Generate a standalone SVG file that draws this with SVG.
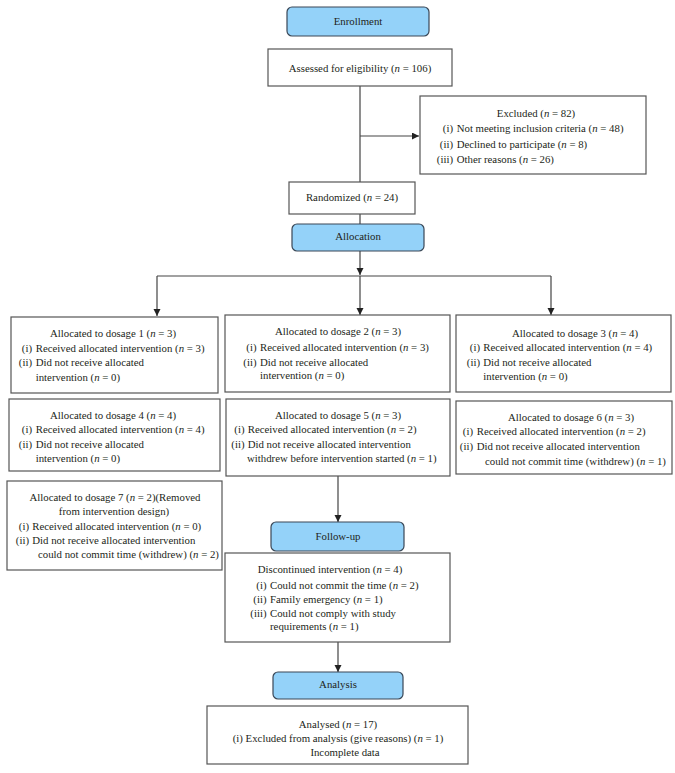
<svg xmlns="http://www.w3.org/2000/svg" width="675" height="773" viewBox="0 0 675 773">
<defs>
<marker id="ah" markerUnits="userSpaceOnUse" markerWidth="7" markerHeight="8" refX="7" refY="3.5" orient="auto">
<path d="M0,0 L7,3.5 L0,7 z" fill="#222"/>
</marker>
</defs>
<style>
.bx{fill:#fff;stroke:#555;stroke-width:1.2}
.bl{fill:#94d2f9;stroke:#3a4756;stroke-width:1.2}
text{font-family:"Liberation Serif","Times New Roman",serif;font-size:10.8px;fill:#231f20}
.c{text-anchor:middle}
.e{text-anchor:end}
.i{font-style:italic}
.ln{fill:none;stroke:#444;stroke-width:1.2}
</style>
<rect width="675" height="773" fill="#fff"/>
<g id="connectors">
<path class="ln" d="M360,86 V182 M360,214 V224"/>
<path class="ln" d="M360,136 H419" marker-end="url(#ah)"/>
<path class="ln" d="M360,251 V275" marker-end="url(#ah)"/>
<path class="ln" d="M157,276 H551"/>
<path class="ln" d="M157,276 V316" marker-end="url(#ah)"/>
<path class="ln" d="M360,276 V315" marker-end="url(#ah)"/>
<path class="ln" d="M551,276 V315" marker-end="url(#ah)"/>
<path class="ln" d="M338,476 V522" marker-end="url(#ah)"/>
<path class="ln" d="M338,642 V672" marker-end="url(#ah)"/>
</g>
<g id="enrollment">
<rect class="bl" x="287" y="7" width="142" height="29" rx="5"/>
<text class="c" x="358" y="25">Enrollment</text>
</g>
<g id="assessed">
<rect class="bx" x="268" y="49" width="184" height="37"/>
<text class="c" x="360" y="72">Assessed for eligibility (<tspan class="i">n</tspan> = 106)</text>
</g>
<g id="excluded">
<rect class="bx" x="420" y="96" width="226" height="78"/>
<text class="c" x="536" y="117">Excluded (<tspan class="i">n</tspan> = 82)</text>
<text class="e" x="453" y="132">(i)</text><text x="456.7" y="132">Not meeting inclusion criteria (<tspan class="i">n</tspan> = 48)</text>
<text class="e" x="453" y="148">(ii)</text><text x="456.7" y="148">Declined to participate (<tspan class="i">n</tspan> = 8)</text>
<text class="e" x="453" y="163">(iii)</text><text x="456.7" y="163">Other reasons (<tspan class="i">n</tspan> = 26)</text>
</g>
<g id="randomized">
<rect class="bx" x="289" y="182" width="126" height="32"/>
<text class="c" x="352" y="201">Randomized (<tspan class="i">n</tspan> = 24)</text>
</g>
<g id="allocation">
<rect class="bl" x="292" y="224" width="132" height="27" rx="5"/>
<text class="c" x="358" y="240">Allocation</text>
</g>
<g id="dosage1">
<rect class="bx" x="11" y="317" width="207" height="76"/>
<text class="c" x="113" y="337">Allocated to dosage 1 (<tspan class="i">n</tspan> = 3)</text>
<text class="e" x="32" y="352">(i)</text><text x="35.7" y="352">Received allocated intervention (<tspan class="i">n</tspan> = 3)</text>
<text class="e" x="32" y="366">(ii)</text><text x="35.7" y="366">Did not receive allocated</text>
<text x="35.7" y="381">intervention (<tspan class="i">n</tspan> = 0)</text>
</g>
<g id="dosage2">
<rect class="bx" x="225" y="315" width="225" height="77"/>
<text class="c" x="338" y="335">Allocated to dosage 2 (<tspan class="i">n</tspan> = 3)</text>
<text class="e" x="256.5" y="351">(i)</text><text x="260" y="351">Received allocated intervention (<tspan class="i">n</tspan> = 3)</text>
<text class="e" x="256.5" y="366">(ii)</text><text x="260" y="366">Did not receive allocated</text>
<text x="260" y="379">intervention (<tspan class="i">n</tspan> = 0)</text>
</g>
<g id="dosage3">
<rect class="bx" x="456" y="315" width="215" height="77"/>
<text class="c" x="575" y="337">Allocated to dosage 3 (<tspan class="i">n</tspan> = 4)</text>
<text class="e" x="480" y="351">(i)</text><text x="483.3" y="351">Received allocated intervention (<tspan class="i">n</tspan> = 4)</text>
<text class="e" x="480" y="366">(ii)</text><text x="483.3" y="366">Did not receive allocated</text>
<text x="483.3" y="380">intervention (<tspan class="i">n</tspan> = 0)</text>
</g>
<g id="dosage4">
<rect class="bx" x="9" y="399" width="211" height="72"/>
<text class="c" x="113" y="419">Allocated to dosage 4 (<tspan class="i">n</tspan> = 4)</text>
<text class="e" x="32" y="433">(i)</text><text x="35.7" y="433">Received allocated intervention (<tspan class="i">n</tspan> = 4)</text>
<text class="e" x="32" y="448">(ii)</text><text x="35.7" y="448">Did not receive allocated</text>
<text x="35.7" y="462">intervention (<tspan class="i">n</tspan> = 0)</text>
</g>
<g id="dosage5">
<rect class="bx" x="226" y="399" width="224" height="77"/>
<text class="c" x="338" y="419">Allocated to dosage 5 (<tspan class="i">n</tspan> = 3)</text>
<text class="e" x="244.5" y="433">(i)</text><text x="247.7" y="433">Received allocated intervention (<tspan class="i">n</tspan> = 2)</text>
<text class="e" x="244.5" y="448">(ii)</text><text x="247.7" y="448">Did not receive allocated intervention</text>
<text x="247" y="462">withdrew before intervention started (<tspan class="i">n</tspan> = 1)</text>
</g>
<g id="dosage6">
<rect class="bx" x="456" y="401" width="216" height="73"/>
<text class="c" x="571" y="421">Allocated to dosage 6 (<tspan class="i">n</tspan> = 3)</text>
<text class="e" x="473" y="435">(i)</text><text x="476.7" y="435">Received allocated intervention (<tspan class="i">n</tspan> = 2)</text>
<text class="e" x="473" y="450">(ii)</text><text x="476.7" y="450">Did not receive allocated intervention</text>
<text x="485" y="465">could not commit time (withdrew) (<tspan class="i">n</tspan> = 1)</text>
</g>
<g id="dosage7">
<rect class="bx" x="7" y="481" width="215" height="89"/>
<text class="c" x="115" y="501">Allocated to dosage 7 (<tspan class="i">n</tspan> = 2)(Removed</text>
<text class="c" x="114" y="515">from intervention design)</text>
<text class="e" x="29" y="530">(i)</text><text x="32.3" y="530">Received allocated intervention (<tspan class="i">n</tspan> = 0)</text>
<text class="e" x="29" y="544">(ii)</text><text x="32.3" y="544">Did not receive allocated intervention</text>
<text x="38" y="558">could not commit time (withdrew) (<tspan class="i">n</tspan> = 2)</text>
</g>
<g id="followup">
<rect class="bl" x="271" y="522" width="133" height="29" rx="5"/>
<text class="c" x="338" y="540">Follow-up</text>
</g>
<g id="discontinued">
<rect class="bx" x="225" y="553" width="225" height="89"/>
<text class="c" x="330" y="573">Discontinued intervention (<tspan class="i">n</tspan> = 4)</text>
<text class="e" x="266.5" y="589">(i)</text><text x="270" y="589">Could not commit the time (<tspan class="i">n</tspan> = 2)</text>
<text class="e" x="266.5" y="603">(ii)</text><text x="270" y="603">Family emergency (<tspan class="i">n</tspan> = 1)</text>
<text class="e" x="266.5" y="617">(iii)</text><text x="270" y="617">Could not comply with study</text>
<text x="270" y="630">requirements (<tspan class="i">n</tspan> = 1)</text>
</g>
<g id="analysis">
<rect class="bl" x="273" y="672" width="130" height="27" rx="5"/>
<text class="c" x="338" y="688">Analysis</text>
</g>
<g id="analysed">
<rect class="bx" x="207" y="706" width="261" height="58"/>
<text class="c" x="338" y="728">Analysed (<tspan class="i">n</tspan> = 17)</text>
<text class="c" x="338" y="742">(i) Excluded from analysis (give reasons) (<tspan class="i">n</tspan> = 1)</text>
<text class="c" x="345" y="756">Incomplete data</text>
</g>
</svg>
